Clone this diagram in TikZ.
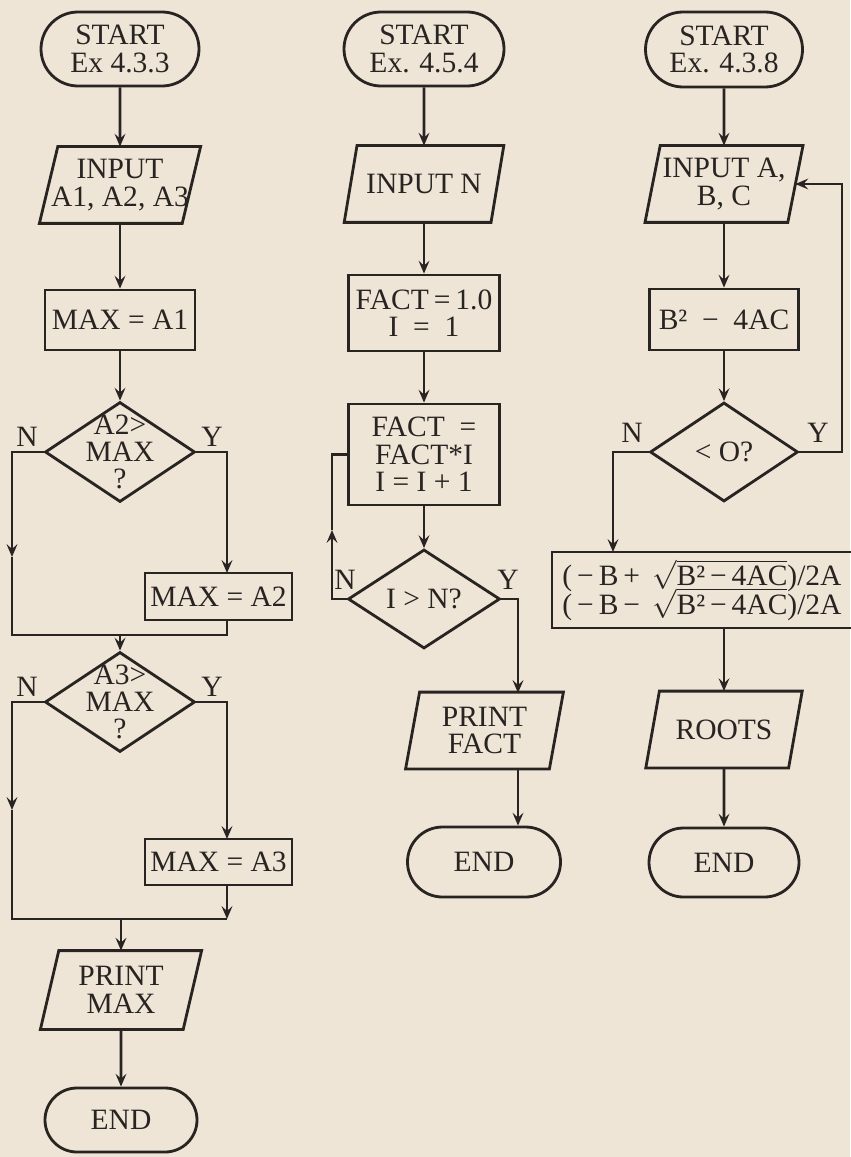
\documentclass[tikz,border=0pt]{standalone}
\usepackage{fontspec}
\setmainfont{Liberation Serif}
\usetikzlibrary{shapes.geometric, shapes.misc, arrows.meta}
\definecolor{paper}{RGB}{239,229,215}
\definecolor{ink}{RGB}{40,36,34}
\tikzset{
  term/.style = {rounded rectangle, draw, minimum width=39.5mm, minimum height=18.5mm, align=center, inner sep=0pt},
  proc/.style = {rectangle, draw, minimum width=37.5mm, minimum height=15mm, align=center, inner sep=0pt},
  % the slanted frame of an input/output box is drawn by \ioframe
  io/.style   = {rectangle, minimum width=35mm, minimum height=18.5mm, align=center, inner sep=0pt},
  dec/.style  = {diamond, draw, aspect=1.5, minimum width=37.5mm, minimum height=25mm, inner sep=-2.5mm, align=center},
  yn/.style   = {inner sep=0pt},
  flow/.style = {-{Stealth[length=3.2mm, width=2.7mm, inset=1.2mm]}},
}
\newcommand{\ioframe}[2][1.8mm]{%
  \draw ([xshift=-#1]#2.south west) -- ([xshift=-#1]#2.south east)
     -- ([xshift=#1]#2.north east) -- ([xshift=#1]#2.north west) -- cycle;}

\begin{document}
\begin{tikzpicture}[x=0.25mm, y=-0.25mm, color=ink, line width=2pt,
  font=\fontsize{21}{19.5}\selectfont]
\fill[paper] (0,0) rectangle (850,1157);
\useasboundingbox (0,0) rectangle (850,1157);

% Ex 4.3.3: largest of three
\node[term] (s1) at (120,49) {START\\Ex 4.3.3};
\node[io] (in1) at (120,185) {INPUT\\A1, A2, A3};
\ioframe[2.3mm]{in1}
\node[proc] (max1) at (120,320) {MAX = A1};
\node[dec] (d1) at (120,452) {A2>\\MAX\\?};
\node[yn] (n1) at (27,437) {N};
\node[yn] (y1) at (212,437) {Y};
\node[proc, minimum width=36.75mm, minimum height=11.75mm] (max2) at (218.5,596.5) {MAX = A2};
\node[dec] (d2) at (120,702) {A3>\\MAX\\?};
\node[yn] (n2) at (27,687) {N};
\node[yn] (y2) at (212,687) {Y};
\node[proc, minimum width=36.75mm, minimum height=11.5mm] (max3) at (218.5,862) {MAX = A3};
\node[io, minimum height=19mm] (pr1) at (121,990) {PRINT\\MAX};
\ioframe[2.3mm]{pr1}
\node[term, minimum width=38mm, minimum height=16mm] (e1) at (121,1120) {END};

\coordinate (l1) at (12,557);
\coordinate (t1) at (227,573);
\coordinate (j1) at (227,635);
\coordinate (k1) at (120,635);
\coordinate (l2) at (12,810);
\coordinate (t2) at (227,839);
\coordinate (j2) at (227,919);
\coordinate (k2) at (121,919);

\draw[flow] (s1) -- (in1);
\draw[flow] (in1) -- (max1);
\draw[flow] (max1) -- (d1);
\draw[flow] (d1.west) -| (l1);
\draw (l1) |- (j1) -- (max2.south -| j1);
\draw[flow] (d1.east) -| (t1);
\draw[flow] (k1) -- (d2);
\draw[flow] (d2.west) -| (l2);
\draw (l2) |- (j2);
\draw[flow] (d2.east) -| (t2);
\draw[flow] (max3.south -| j2) -- (j2);
\draw[flow] (k2) -- (pr1);
\draw[flow] (pr1) -- (e1);

% Ex. 4.5.4: factorial
\node[term, minimum width=40mm] (s2) at (424,49) {START\\Ex. 4.5.4};
\node[io, minimum width=36mm] (in2) at (424,184) {INPUT N};
\ioframe[1.6mm]{in2}
\node[proc, minimum width=37.75mm, minimum height=19mm] (init) at (424,313) {FACT\,=\,1.0\\I\ \ =\ \ 1};
\node[proc, minimum width=37.75mm, minimum height=25.25mm] (loop) at (424,454.5) {FACT\ \ =\\FACT*I\\I = I + 1};
\node[dec, minimum width=38mm, minimum height=24.75mm] (d3) at (424,599) {I > N?};
\node[yn] (n3) at (345,580) {N};
\node[yn] (y3) at (508,580) {Y};
\node[io, minimum width=35.25mm] (pr2) at (484.5,730.5) {PRINT\\FACT};
\ioframe[1.75mm]{pr2}
\node[term, minimum width=38.25mm, minimum height=17.5mm] (e2) at (484,862) {END};

\coordinate (l3) at (332,530);
\coordinate (t3) at (518,693);

\draw[flow] (s2) -- (in2);
\draw[flow] (in2) -- (init);
\draw[flow] (init) -- (loop);
\draw[flow] (loop) -- (d3);
\draw[flow] (d3.west) -| (l3);
\draw (l3) |- (loop.west);
\draw[flow] (d3.east) -| (t3);
\draw[flow] (pr2.south -| t3) -- (e2.north -| t3);

% Ex. 4.3.8: roots of a quadratic
\node[term, minimum width=39.25mm, minimum height=18.75mm] (s3) at (724,49.5) {START\\Ex. 4.3.8};
\node[io] (in3) at (724,184) {INPUT A,\\B, C};
\ioframe[1.9mm]{in3}
\node[proc, minimum width=37.25mm, minimum height=15.25mm] (disc) at (724,319.5) {B²\ \ −\ \ 4AC};
\node[dec, minimum width=37mm, minimum height=24.75mm] (d4) at (724,452) {< O?};
\node[yn] (n4) at (632,433) {N};
\node[yn] (y4) at (818,433) {Y};
\node[proc, minimum width=75mm, minimum height=19mm] (roots) at (702,590)
  {(\,−\,B\,+\, $\sqrt{\mbox{B²\,−\,4AC}}$)/2A\\[-4pt](\,−\,B\,−\, $\sqrt{\mbox{B²\,−\,4AC}}$)/2A};
\node[io] (rt) at (724,729.5) {ROOTS};
\ioframe[1.7mm]{rt}
\node[term, minimum width=37.5mm, minimum height=17.25mm] (e3) at (724,862.5) {END};

\coordinate (t4) at (613,552);
\coordinate (c4) at (842,184);

\draw[flow] (s3) -- (in3);
\draw[flow] (in3) -- (disc);
\draw[flow] (disc) -- (d4);
\draw[flow] (d4.west) -| (t4);
\draw[flow] (d4.east) -| (c4) -- (in3.east);
\draw[flow] (roots.south -| rt) -- (rt);
\draw[flow] (rt) -- (e3);
\end{tikzpicture}
\end{document}
